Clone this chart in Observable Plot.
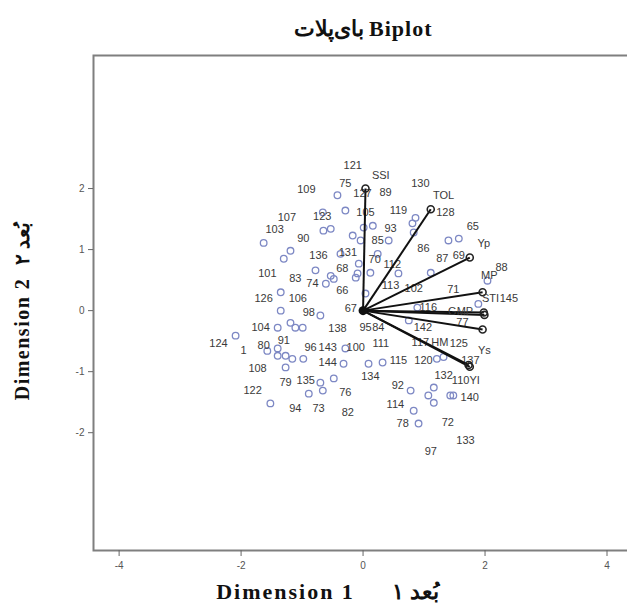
<!DOCTYPE html>
<html><head><meta charset="utf-8">
<script src="https://cdn.jsdelivr.net/npm/d3@7"></script>
<script src="https://cdn.jsdelivr.net/npm/@observablehq/plot@0.6"></script>
<style>
body{margin:0;background:#fff;overflow:hidden;width:627px;height:612px;position:relative}
#title{position:absolute;left:93px;width:540px;top:16px;text-align:center;font:bold 22px "Liberation Serif",serif;color:#111;letter-spacing:1px}
#chart{position:absolute;left:0;top:45px;width:627px;height:567px;overflow:hidden}
#chart svg{max-width:none !important}
</style></head><body>
<div id="title" dir="ltr">بای‌پلات Biplot</div>
<div id="chart"></div>
<script>
// Variable vectors (biplot arrows)
const vecNames = ["SSI","TOL","Yp","MP","GMP","STI","HM","Ys","YI"];
const vecX = [0.04, 1.11, 1.75, 1.96, 1.98, 1.99, 1.96, 1.73, 1.75];
const vecY = [2.00, 1.66, 0.87, 0.30, -0.03, -0.07, -0.31, -0.89, -0.92];
const vecLabelX = [0.29, 1.32, 1.98, 2.07, 1.60, 2.09, 1.26, 1.99, 1.83];
const vecLabelY = [2.21, 1.89, 1.10, 0.57, -0.02, 0.20, -0.52, -0.66, -1.15];

// Object points (genotype scores)
const ptX = [-0.66,-0.42,-0.29,-0.65,-0.53,-1.63,-1.19,-1.30,-0.17,0.01,-0.04,0.16,0.81,0.86,0.42,1.40,1.57,0.83,
  -0.78,-0.53,-0.61,-0.12,-0.07,-1.35,-1.35,-0.70,-1.40,-1.19,-1.11,-0.99,-2.09,-1.57,-1.40,-0.37,0.24,0.58,0.12,-0.48,
  0.04,1.11,0.75,-0.29,0.09,0.32,2.04,1.89,-0.09,1.21,1.32,0.78,1.07,1.16,1.16,1.43,1.48,0.83,0.91,-1.40,-1.27,-1.16,
  -0.98,-1.27,-0.32,-0.48,-0.70,-0.66,-0.89,-1.52,0.89];
const ptY = [1.61,1.89,1.64,1.31,1.34,1.11,0.98,0.85,1.23,1.36,1.15,1.39,1.43,1.52,1.15,1.15,1.18,1.28,
  0.66,0.57,0.44,0.54,0.77,0.30,0.00,-0.08,-0.28,-0.20,-0.28,-0.28,-0.41,-0.66,-0.62,0.93,0.93,0.61,0.62,0.52,
  0.28,0.62,-0.16,-0.62,-0.87,-0.85,0.49,0.11,0.61,-0.79,-0.76,-1.31,-1.39,-1.26,-1.51,-1.39,-1.39,-1.64,-1.85,-0.74,-0.74,-0.79,
  -0.79,-0.93,-0.87,-1.11,-1.18,-1.31,-1.36,-1.52,0.05];

// Case labels (as placed in the figure)
const caseLabels = ["121","75","127","89","130","109","105","119","128","107","123","93","65","103","90","85","86",
  "136","131","70","112","87","69","101","83","74","68","88","66","113","102","71","145","126","106","67","98","116",
  "77","104","138","95","84","142","124","1","80","91","96","143","100","111","117","125","108","144","115","120",
  "137","134","132","110","79","135","122","76","92","140","94","73","82","114","78","72","133","97"];
const caseLabelX = [-0.17,-0.29,-0.01,0.37,0.94,-0.93,0.04,0.58,1.35,-1.25,-0.67,0.45,1.80,-1.45,-0.98,0.24,0.99,
  -0.73,-0.25,0.19,0.48,1.30,1.57,-1.57,-1.11,-0.83,-0.34,2.27,-0.34,0.45,0.83,1.48,2.39,-1.63,-1.07,-0.20,-0.89,1.07,
  1.63,-1.68,-0.42,0.04,0.25,0.98,-2.37,-1.96,-1.63,-1.30,-0.86,-0.58,-0.12,0.29,0.94,1.57,-1.73,-0.58,0.58,0.99,
  1.76,0.12,1.32,1.60,-1.27,-0.94,-1.81,-0.29,0.57,1.75,-1.11,-0.73,-0.25,0.53,0.65,1.39,1.68,1.11];
const caseLabelY = [2.38,2.08,1.92,1.93,2.08,1.98,1.61,1.64,1.61,1.53,1.54,1.34,1.38,1.33,1.18,1.15,1.02,
  0.90,0.95,0.84,0.75,0.85,0.90,0.61,0.52,0.44,0.69,0.71,0.33,0.41,0.36,0.34,0.20,0.20,0.20,0.03,-0.03,0.05,
  -0.20,-0.28,-0.30,-0.28,-0.28,-0.28,-0.54,-0.66,-0.57,-0.49,-0.61,-0.61,-0.61,-0.54,-0.52,-0.54,-0.95,-0.85,-0.82,-0.82,
  -0.81,-1.08,-1.07,-1.15,-1.18,-1.15,-1.31,-1.34,-1.23,-1.43,-1.61,-1.61,-1.67,-1.54,-1.85,-1.84,-2.13,-2.30];

const xTicks = [-4,-2,0,2,4];
const yTicks = [-2,-1,0,1,2];
const xTitle = ["Dimension 1     بُعد ۱"];
const yTitle = ["Dimension 2  بُعد ۲"];

const vectors = vecNames.map((n,i)=>({name:n,x:vecX[i],y:vecY[i],lx:vecLabelX[i],ly:vecLabelY[i]}));
const points = ptX.map((x,i)=>({x,y:ptY[i]}));
const labels = caseLabels.map((t,i)=>({t,x:caseLabelX[i],y:caseLabelY[i]}));

const font = "'Liberation Sans', Arial, sans-serif";
const serif = "'Liberation Serif', 'Times New Roman', serif";
const plot = Plot.plot({
  width: 637, height: 567,
  marginLeft: 93, marginRight: 0, marginTop: 10, marginBottom: 62,
  x: {domain: [-4.42, 4.5]},
  y: {domain: [-3.93, 4.18]},
  style: {fontFamily: font, background: "#fff", maxWidth: "none"},
  marks: [
    Plot.frame({stroke: "#7f7f7f", strokeWidth: 2}),
    Plot.axisX({ticks: xTicks, tickSize: 6, tickPadding: 5, fontSize: 10, fill: "#555", stroke: "#666", label: null, tickFormat: d => String(d)}),
    Plot.axisY({ticks: yTicks, tickSize: 5, tickPadding: 4, fontSize: 10, fill: "#555", stroke: "#666", label: null, tickFormat: d => String(d)}),
    Plot.dot(points, {x: "x", y: "y", r: 3.3, stroke: "#7d88c4", strokeWidth: 1.3, fill: "none"}),
    Plot.text(labels, {x: "x", y: "y", text: "t", fontSize: 11, fill: "#3a3a3a", fontFamily: font}),
    Plot.link(vectors, {x1: 0, y1: 0, x2: "x", y2: "y", stroke: "#111", strokeWidth: 2}),
    Plot.dot(vectors, {x: "x", y: "y", r: 3.5, stroke: "#222", strokeWidth: 1.6, fill: "none"}),
    Plot.dot(vectors.slice(0,1), {x: 0, y: 0, r: 4.5, fill: "#111"}),
    Plot.text(vectors, {x: "lx", y: "ly", text: "name", fontSize: 11, fill: "#3a3a3a", fontFamily: font}),
    Plot.text(xTitle, {frameAnchor: "bottom", textAnchor: "middle", dy: 48, dx: -38, fontSize: 22, fontWeight: "bold", fontFamily: serif, fill: "#111"}),
    Plot.text(yTitle, {frameAnchor: "left", textAnchor: "middle", dx: -71, dy: 8, rotate: -90, fontSize: 20, fontWeight: "bold", fontFamily: serif, fill: "#111"})
  ]
});
plot.style.maxWidth = "none";
d3.select(plot).selectAll("text").filter(function(){return this.textContent.startsWith("Dimension 1");}).style("letter-spacing","2px");
d3.select(plot).selectAll("text").filter(function(){return this.textContent.startsWith("Dimension 2");}).style("letter-spacing","1.5px");
document.getElementById("chart").appendChild(plot);
</script>
</body></html>
